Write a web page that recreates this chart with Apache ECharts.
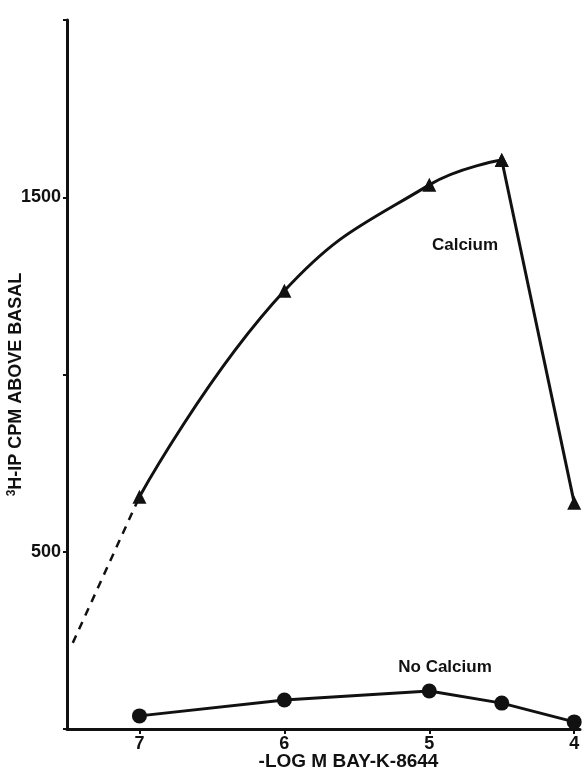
<!DOCTYPE html>
<html>
<head>
<meta charset="utf-8">
<script src="https://cdn.jsdelivr.net/npm/echarts@6/dist/echarts.min.js"></script>
<style>html,body{margin:0;padding:0;background:#fff;}#c{width:584px;height:770px;}</style>
</head>
<body>
<div id="c"></div>
<script>
// x = -log M BAY-K-8644
const xTicks = [4, 5, 6, 7];
const yTicksLabelled = [500, 1500];
const calciumCurve = [[7, 655], [6, 1236], [5, 1535], [4.5, 1605]];
const calciumDrop = [[4.5, 1605], [4, 638]];
const calciumExtrap = [[7.46, 243], [7, 655]];
const noCalcium = [[7, 37], [6, 82], [5, 107], [4.5, 73], [4, 20]];
const labelCalcium = 'Calcium';
const labelNoCalcium = 'No Calcium';
const xName = '-LOG M BAY-K-8644';
const yName = '{sup|3}H-IP CPM ABOVE BASAL';

const FONT = '"Liberation Sans", Arial, sans-serif';
const INK = '#111';
const chart = echarts.init(document.getElementById('c'));
chart.setOption({
  animation: false,
  backgroundColor: '#fff',
  grid: { left: 67, right: 4, top: 20, bottom: 41, containLabel: false, outerBoundsMode: 'none' },
  xAxis: {
    type: 'value', inverse: true, min: 3.96, max: 7.5,
    name: xName, nameLocation: 'middle', nameGap: 23, nameMoveOverlap: false,
    nameTextStyle: { fontFamily: FONT, fontWeight: 'bold', fontSize: 19, color: INK, padding: [0, 0, 0, 50] },
    axisLine: { lineStyle: { color: INK, width: 3 } },
    axisTick: { show: true, length: 5, lineStyle: { color: INK, width: 2 }, customValues: xTicks },
    axisLabel: { customValues: xTicks, margin: 6, fontFamily: FONT, fontWeight: 'bold', fontSize: 18, color: INK },
    splitLine: { show: false }
  },
  yAxis: {
    type: 'value', min: 0, max: 2000, interval: 500,
    name: yName, nameLocation: 'middle', nameGap: 40, nameMoveOverlap: false,
    nameTextStyle: { fontFamily: FONT, fontWeight: 'bold', fontSize: 18, color: INK, padding: [0, 20, 0, 0],
      rich: { sup: { fontFamily: FONT, fontWeight: 'bold', fontSize: 12, color: INK, padding: [0, 0, 9, 0] } } },
    axisLine: { show: true, lineStyle: { color: INK, width: 3 } },
    axisTick: { show: true, length: 4, lineStyle: { color: INK, width: 2 } },
    axisLabel: { margin: 6, fontFamily: FONT, fontWeight: 'bold', fontSize: 18, color: INK,
      formatter: v => yTicksLabelled.includes(v) ? String(v) : '' },
    splitLine: { show: false }
  },
  series: [
    { type: 'line', data: calciumExtrap, symbol: 'none', silent: true,
      lineStyle: { color: INK, width: 2.5, type: [8, 7] } },
    { type: 'line', data: calciumCurve, smooth: 0.45, symbol: 'triangle', symbolSize: 14,
      itemStyle: { color: INK }, lineStyle: { color: INK, width: 3 } },
    { type: 'line', data: calciumDrop, symbol: 'triangle', symbolSize: 14,
      itemStyle: { color: INK }, lineStyle: { color: INK, width: 3 } },
    { type: 'line', data: noCalcium, symbol: 'circle', symbolSize: 15,
      itemStyle: { color: INK }, lineStyle: { color: INK, width: 3 } }
  ],
  graphic: [
    { type: 'text', x: 465, y: 245, style: { text: labelCalcium, fontFamily: FONT, fontWeight: 'bold', fontSize: 17, fill: INK, align: 'center', verticalAlign: 'middle' } },
    { type: 'text', x: 445, y: 667, style: { text: labelNoCalcium, fontFamily: FONT, fontWeight: 'bold', fontSize: 17, fill: INK, align: 'center', verticalAlign: 'middle' } }
  ]
});
</script>
</body>
</html>
